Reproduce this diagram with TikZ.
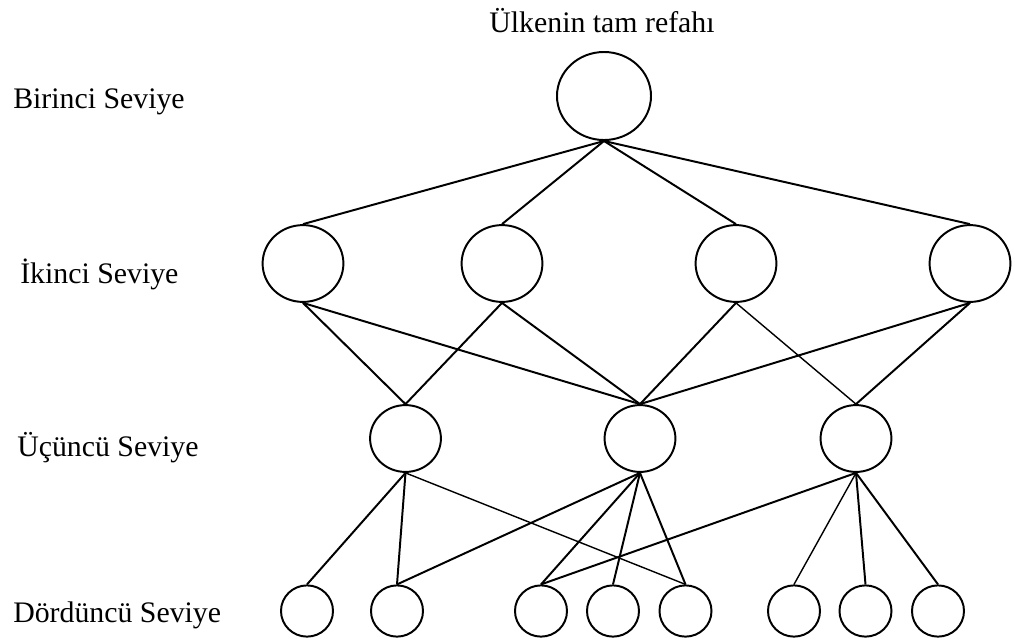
\documentclass[tikz,border=0pt]{standalone}
\usepackage{fontspec}
\setmainfont{Liberation Serif}
\usetikzlibrary{shapes.geometric}
\begin{document}
\begin{tikzpicture}[x=0.025cm,y=-0.025cm,
  lvl/.style={ellipse,draw,line width=1.4pt,inner sep=0pt},
  lone/.style={lvl,minimum width=2.35cm,minimum height=2.2cm},
  ltwo/.style={lvl,minimum width=2.02cm,minimum height=1.92cm},
  lthree/.style={lvl,minimum width=1.77cm,minimum height=1.67cm},
  lfour/.style={lvl,minimum width=1.3cm,minimum height=1.28cm},
  lbl/.style={font=\fontsize{21.2}{25}\selectfont,inner sep=0pt},
  edge/.style={line width=1.4pt},
  thinedge/.style={line width=1pt}]
\useasboundingbox (0,0) rectangle (1015,641);
% labels
\node[lbl,anchor=base] (title) at (602,32) {Ülkenin tam refahı};
\node[lbl,anchor=base west] (s1) at (13,108) {Birinci Seviye};
\node[lbl,anchor=base west] (s2) at (20,283) {İkinci Seviye};
\node[lbl,anchor=base west] (s3) at (17,456) {Üçüncü Seviye};
\node[lbl,anchor=base west] (s4) at (13,622) {Dördüncü Seviye};
% nodes
\node[lone] (a) at (604,96) {};
\node[ltwo] (b1) at (303,263.5) {};
\node[ltwo] (b2) at (502,263.5) {};
\node[ltwo] (b3) at (736,263.5) {};
\node[ltwo] (b4) at (970,263.5) {};
\node[lthree] (c1) at (405.5,438.5) {};
\node[lthree] (c2) at (640,438.5) {};
\node[lthree] (c3) at (856,438.5) {};
\node[lfour] (d1) at (307,611) {};
\node[lfour] (d2) at (397,611) {};
\node[lfour] (d3) at (541,611) {};
\node[lfour] (d4) at (613,611) {};
\node[lfour] (d5) at (685.5,611) {};
\node[lfour] (d6) at (794,611) {};
\node[lfour] (d7) at (865.5,611) {};
\node[lfour] (d8) at (938,611) {};
% level 1 -> 2
\foreach \t in {b1,b2,b3,b4} \draw[edge] (a.south) -- (\t.north);
% level 2 -> 3
\draw[edge] (b1.south) -- (c1.north);
\draw[edge] (b1.south) -- (c2.north);
\draw[edge] (b2.south) -- (c1.north);
\draw[edge] (b2.south) -- (c2.north);
\draw[edge] (b3.south) -- (c2.north);
\draw[thinedge] (b3.south) -- (c3.north);
\draw[edge] (b4.south) -- (c2.north);
\draw[edge] (b4.south) -- (c3.north);
% level 3 -> 4
\draw[edge] (c1.south) -- (d1.north);
\draw[edge] (c1.south) -- (d2.north);
\draw[thinedge] (c1.south) -- (d5.north);
\draw[edge] (c2.south) -- (d2.north);
\draw[edge] (c2.south) -- (d3.north);
\draw[edge] (c2.south) -- (d4.north);
\draw[edge] (c2.south) -- (d5.north);
\draw[edge] (c3.south) -- (d3.north);
\draw[thinedge] (c3.south) -- (d6.north);
\draw[edge] (c3.south) -- (d7.north);
\draw[edge] (c3.south) -- (d8.north);
\end{tikzpicture}
\end{document}
